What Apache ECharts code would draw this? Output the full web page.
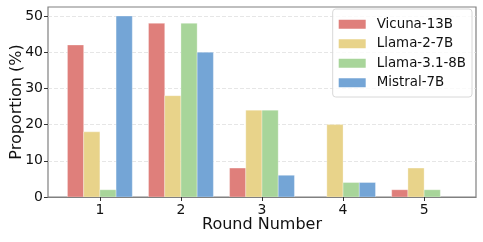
<!DOCTYPE html>
<html><head><meta charset="utf-8">
<script src="https://cdn.jsdelivr.net/npm/echarts@6/dist/echarts.min.js"></script>
<style>html,body{margin:0;padding:0;background:#fff}#c{width:483px;height:242px}</style>
</head><body><div id="c"></div>
<script>
var rounds = [1, 2, 3, 4, 5];
var seriesNames = ['Vicuna-13B', 'Llama-2-7B', 'Llama-3.1-8B', 'Mistral-7B'];
var vicuna = [42, 48, 8, 0, 2];
var llama2 = [18, 28, 24, 20, 8];
var llama31 = [2, 48, 24, 4, 2];
var mistral = [50, 40, 6, 4, 0];
var yTicks = [0, 10, 20, 30, 40, 50];
var colors = ['#df7f7b', '#e8d38a', '#a8d59a', '#74a5d6'];
var offsets = [-0.3, -0.1, 0.1, 0.3];
var values = [vicuna, llama2, llama31, mistral];

var font = 'DejaVu Sans';
var chart = echarts.init(document.getElementById('c'), null, {renderer: 'canvas'});
var xmin = 0.36, xmax = 5.64;
var halfW = 0.1;

var series = values.map(function (vals, i) {
  return {
    name: seriesNames[i],
    type: 'custom',
    itemStyle: {color: colors[i]},
    encode: {x: 0, y: 1},
    data: rounds.map(function (r, k) { return [r + offsets[i], vals[k]]; }),
    renderItem: function (params, api) {
      var x = api.value(0), y = api.value(1);
      if (!y) return null;
      var p1 = api.coord([x - halfW, y]);
      var p2 = api.coord([x + halfW, 0]);
      return {
        type: 'rect',
        shape: {x: p1[0], y: p1[1], width: p2[0] - p1[0], height: p2[1] - p1[1]},
        style: {fill: colors[i], stroke: 'rgba(255,255,255,0.5)', lineWidth: 0.6}
      };
    }
  };
});

chart.setOption({
  animation: false,
  textStyle: {fontFamily: font},
  grid: {left: 48, right: 7, top: 7, bottom: 45, outerBoundsMode: 'none', containLabel: false,
    show: true, borderColor: '#808080', borderWidth: 1.2, backgroundColor: 'transparent'},
  legend: {
    right: 11, top: 9, orient: 'vertical',
    data: seriesNames.map(function (n, i) { return {name: n, itemStyle: {color: colors[i]}}; }),
    icon: 'rect', itemWidth: 27, itemHeight: 9, itemGap: 5,
    padding: [8, 6, 7, 6],
    borderColor: '#d8d8d8', borderWidth: 1, borderRadius: 3,
    backgroundColor: 'rgba(255,255,255,0.8)',
    textStyle: {fontFamily: font, fontSize: 13.4, color: '#111', padding: [0, 0, 0, 6], lineHeight: 14.5}
  },
  xAxis: {
    type: 'value', min: xmin, max: xmax, z: 10,
    name: 'Round Number', nameLocation: 'middle', nameGap: 20, nameMoveOverlap: false,
    nameTextStyle: {fontFamily: font, fontSize: 16, color: '#111'},
    axisLine: {show: true, onZero: false, lineStyle: {color: '#808080', width: 1.2}},
    axisTick: {show: true, length: 4, lineStyle: {color: '#333'}, customValues: rounds},
    axisLabel: {fontFamily: font, fontSize: 14, color: '#111', margin: 6, customValues: rounds,
      formatter: function (v) { return String(v); }},
    splitLine: {show: false}
  },
  yAxis: {
    type: 'value', min: 0, max: 52.5,
    name: 'Proportion (%)', nameLocation: 'middle', nameGap: 23, nameMoveOverlap: false,
    nameTextStyle: {fontFamily: font, fontSize: 16, color: '#111'},
    axisLine: {show: false},
    axisTick: {show: true, length: 4, lineStyle: {color: '#333'}, customValues: yTicks},
    axisLabel: {fontFamily: font, fontSize: 14, color: '#111', margin: 5, customValues: yTicks},
    splitLine: {show: true, lineStyle: {color: '#e0e0e0', type: [4, 2], width: 0.8}}
  },
  series: series
});
</script></body></html>
